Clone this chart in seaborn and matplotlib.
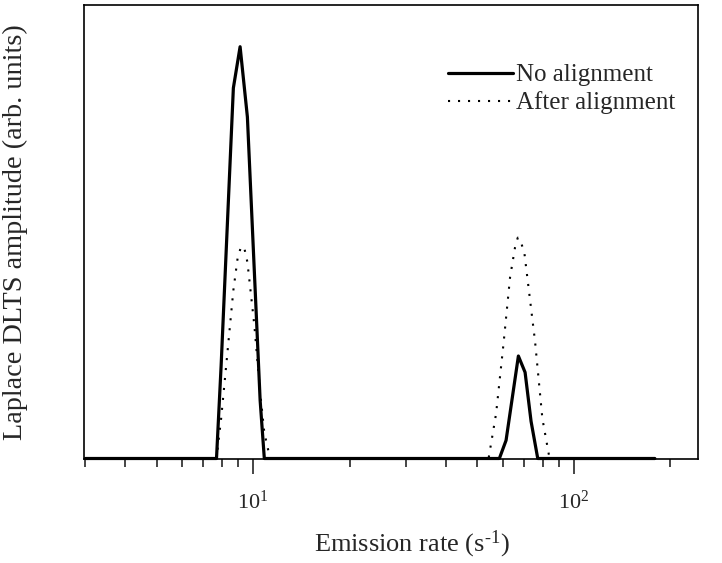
import matplotlib
matplotlib.use("Agg")
import matplotlib.pyplot as plt
import matplotlib.ticker as mticker
import numpy as np
import pandas as pd
import seaborn as sns

# Laplace DLTS spectra: emission rate (s^-1) vs amplitude (arb. units)
rate_no_align = [3.0, 7.69, 7.95, 8.68, 9.11, 9.60, 10.52, 10.84,
                 58.61, 61.50, 64.68, 67.19, 70.50, 73.59, 77.21, 179.0]
amp_no_align = [0, 0, 0.205, 0.817, 0.908, 0.753, 0.128, 0,
                0, 0.040, 0.146, 0.226, 0.190, 0.082, 0, 0]

rate_after_align = [3.0, 7.69, 7.95, 8.68, 8.95, 9.18, 9.41, 9.60, 10.09, 10.52,
                    10.84, 11.30, 54.24, 57.25, 60.40, 63.30, 65.61, 66.90,
                    68.51, 70.15, 75.73, 79.82, 84.04, 179.0]
amp_after_align = [0, 0, 0.088, 0.371, 0.442, 0.468, 0.461, 0.433, 0.294, 0.146,
                   0.057, 0, 0, 0.099, 0.254, 0.400, 0.466, 0.487,
                   0.476, 0.453, 0.258, 0.088, 0, 0]

series_labels = ["No alignment", "After alignment"]
x_major_ticks = [10, 100]
x_tick_labels = ["$10^{1}$", "$10^{2}$"]

sns.set_style("white")
plt.rcParams["font.family"] = ["Liberation Serif", "DejaVu Serif"]
plt.rcParams["mathtext.fontset"] = "custom"
plt.rcParams["mathtext.rm"] = "Liberation Serif"
plt.rcParams["mathtext.it"] = "Liberation Serif:italic"
plt.rcParams["mathtext.bf"] = "Liberation Serif:bold"

df_no = pd.DataFrame({"rate": rate_no_align, "amp": amp_no_align})
df_after = pd.DataFrame({"rate": rate_after_align, "amp": amp_after_align})

fig = plt.figure(figsize=(7.22, 5.63), dpi=100)
ax = fig.add_axes([84 / 722, 1 - 458.5 / 563, (698 - 84) / 722, (458.5 - 5) / 563])

sns.lineplot(data=df_no, x="rate", y="amp", ax=ax, color="black", lw=2.3,
             estimator=None, sort=False, label=series_labels[0], zorder=3,
             clip_on=False)
sns.lineplot(data=df_after, x="rate", y="amp", ax=ax, color="black", lw=1.5,
             linestyle=(0, (1, 3.8)), estimator=None, sort=False,
             label=series_labels[1], zorder=2, clip_on=False)

ax.set_xscale("log")
ax.set_xlim(2.97, 244)
ax.set_ylim(0, 1.0)
ax.set_xticks(x_major_ticks)
ax.set_xticklabels(x_tick_labels)
ax.xaxis.set_minor_locator(mticker.LogLocator(base=10, subs=np.arange(2, 10)))
ax.xaxis.set_minor_formatter(mticker.NullFormatter())
ax.set_yticks([])
ax.tick_params(axis="x", which="major", direction="out", length=11, width=1.2,
               labelsize=16, pad=12, bottom=True)
ax.tick_params(axis="x", which="minor", direction="out", length=6, width=1.2,
               bottom=True)

for sp in ax.spines.values():
    sp.set_visible(True)
    sp.set_color("black")
    sp.set_linewidth(1.2)

ax.set_xlabel(r"Emission rate (s$^{\text{-}1}$)", fontsize=19)
ax.xaxis.set_label_coords((412 - 84) / 614, -(544 - 458.5) / 453.5, transform=ax.transAxes)
ax.xaxis.label.set_va("center")
ax.set_ylabel("Laplace DLTS amplitude (arb. units)", fontsize=20.3)
ax.yaxis.set_label_coords(-(84 - 15) / 614, 0.5, transform=ax.transAxes)
ax.yaxis.label.set_va("center")

leg = ax.legend(loc="upper left", bbox_to_anchor=(448 / 722, 1 - 64 / 563),
                bbox_transform=fig.transFigure, frameon=False, fontsize=18,
                handlelength=2.6, handletextpad=0.1, borderpad=0,
                borderaxespad=0, labelspacing=0.2)

fig.savefig("out.png", dpi=100)
